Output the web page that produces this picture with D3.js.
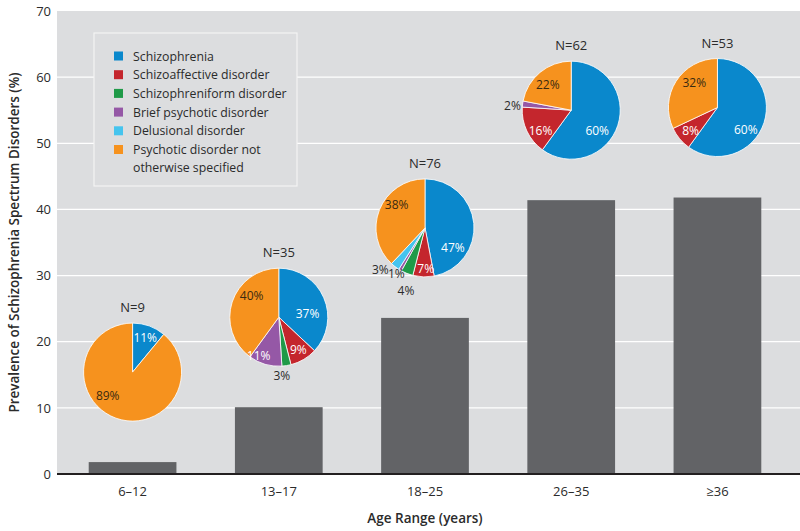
<!DOCTYPE html>
<html><head><meta charset="utf-8">
<script src="https://cdn.jsdelivr.net/npm/d3@7"></script>
<style>body{margin:0;background:#fff;} svg{display:block;font-family:"Open Sans",sans-serif;}</style>
</head><body>
<svg id="chart" width="800" height="531"></svg>
<script>
const ageRanges = ["6–12", "13–17", "18–25", "26–35", "≥36"];
const prevalence = [1.8, 10.1, 23.6, 41.4, 41.8];
const sampleN = [9, 35, 76, 62, 53];
const disorders = ["Schizophrenia", "Schizoaffective disorder", "Schizophreniform disorder", "Brief psychotic disorder", "Delusional disorder", "Psychotic disorder not otherwise specified"];
const legendLines = [["Schizophrenia"], ["Schizoaffective disorder"], ["Schizophreniform disorder"], ["Brief psychotic disorder"], ["Delusional disorder"], ["Psychotic disorder not", "otherwise specified"]];
const schizophrenia   = [11, 37, 47, 60, 60];
const schizoaffective = [0, 9, 7, 16, 8];
const schizophreniform= [0, 3, 4, 0, 0];
const briefPsychotic  = [0, 11, 1, 2, 0];
const delusional      = [0, 0, 3, 0, 0];
const nos             = [89, 40, 38, 22, 32];
const yTicks = [0, 10, 20, 30, 40, 50, 60, 70];

// label placement style (polar: angle in degrees clockwise from 12 o'clock, radius in px), keyed "pie-series"
const labelPlacement = {
  "0-0": [20, 37], "0-5": [227, 34],
  "1-0": [82, 29], "1-1": [149, 38], "1-2": [177, 58], "1-3": [208, 43], "1-5": [309, 35],
  "2-0": [125, 34], "2-1": [179, 41], "2-2": [197, 65], "2-3": [212, 54], "2-4": [227, 61], "2-5": [310, 37],
  "3-0": [128, 33], "3-1": [236, 37], "3-3": [275, 59], "3-5": [318, 35],
  "4-0": [128, 36], "4-1": [230, 35], "4-5": [317, 34]
};

const colors = ["#0a88cc", "#c4262d", "#1f9a48", "#9558a6", "#45c4ee", "#f6921e"];
const series = [schizophrenia, schizoaffective, schizophreniform, briefPsychotic, delusional, nos];

const svg = d3.select("#chart");
const plot = {left: 57, right: 800, top: 11, bottom: 474};
const y = d3.scaleLinear().domain([0, 70]).range([plot.bottom, plot.top]);
const x = d3.scaleBand().domain(ageRanges).range([58, 792]).paddingInner(0.4).paddingOuter(0.21);
const textColor = "#2b2b2b";

svg.append("rect").attr("x", plot.left).attr("y", plot.top).attr("width", plot.right - plot.left).attr("height", plot.bottom - plot.top).attr("fill", "#dcdddf");

// grid
svg.append("g").selectAll("line").data(yTicks.filter(d => d > 0 && d < 70)).join("line")
  .attr("x1", plot.left).attr("x2", plot.right).attr("y1", d => y(d)).attr("y2", d => y(d))
  .attr("stroke", "#ffffff").attr("stroke-width", 1.2);

// y axis labels
const yAxis = d3.axisLeft(y).tickValues(yTicks).tickSize(0).tickPadding(6);
const gy = svg.append("g").attr("transform", `translate(${plot.left},0)`).call(yAxis);
gy.select(".domain").remove();
gy.selectAll("text").attr("fill", textColor).style("font-size", "13px").style("font-family", "Open Sans");

// bars
svg.append("g").selectAll("rect").data(ageRanges).join("rect")
  .attr("x", d => x(d)).attr("width", x.bandwidth())
  .attr("y", (d, i) => y(prevalence[i])).attr("height", (d, i) => y(0) - y(prevalence[i]))
  .attr("fill", "#626366");

// baseline
svg.append("line").attr("x1", plot.left).attr("x2", plot.right).attr("y1", y(0)).attr("y2", y(0)).attr("stroke", "#231f20").attr("stroke-width", 2);

// x axis labels
const xAxis = d3.axisBottom(x).tickSize(0).tickPadding(13);
const gx = svg.append("g").attr("transform", `translate(0,${y(0)})`).call(xAxis);
gx.select(".domain").remove();
gx.selectAll("text").attr("fill", textColor).style("font-size", "13px").style("font-family", "Open Sans");

// axis titles
svg.append("text").attr("x", 425).attr("y", 523).attr("text-anchor", "middle").attr("fill", textColor)
  .style("font-size", "13.5px").style("font-weight", 600).text("Age Range (years)");
svg.append("text").attr("transform", `translate(19,${(plot.top + plot.bottom) / 2}) rotate(-90)`).attr("text-anchor", "middle").attr("fill", textColor)
  .style("font-size", "13.5px").style("font-weight", 600).text("Prevalence of Schizophrenia Spectrum Disorders (%)");

// pies
const R = 49;
const pie = d3.pie().sort(null).value(d => d.v).startAngle(0).endAngle(2 * Math.PI);
const arc = d3.arc().innerRadius(0).outerRadius(R);
ageRanges.forEach((age, i) => {
  const cx = x(age) + x.bandwidth() / 2;
  const cy = y(prevalence[i]) - 41 - R;
  const data = series.map((s, k) => ({v: s[i], k}));
  const arcs = pie(data).filter(a => a.data.v > 0);
  const g = svg.append("g").attr("transform", `translate(${cx},${cy})`);
  g.selectAll("path").data(arcs).join("path").attr("d", arc)
    .attr("fill", a => colors[a.data.k]).attr("stroke", "#ffffff").attr("stroke-width", 0.8);
  g.selectAll("text.lbl").data(arcs).join("text").attr("class", "lbl")
    .each(function(a) {
      const mid = (a.startAngle + a.endAngle) / 2;
      const p = labelPlacement[i + "-" + a.data.k];
      const ang = p ? p[0] * Math.PI / 180 : mid;
      const rr = p ? p[1] : (a.data.v < 5 ? R + 12 : R * 0.68);
      d3.select(this).attr("x", Math.sin(ang) * rr).attr("y", -Math.cos(ang) * rr);
    })
    .attr("text-anchor", "middle").attr("dominant-baseline", "central")
    .attr("fill", a => a.data.v < 5 ? textColor : (a.data.k === 5 ? "#3a2a10" : "#ffffff"))
    .style("font-size", "12px").text(a => a.data.v + "%");
  g.append("text").attr("x", 0).attr("y", -R - 11).attr("text-anchor", "middle").attr("fill", textColor)
    .style("font-size", "13px").text("N=" + sampleN[i]);
});

// legend
const lg = svg.append("g");
lg.append("rect").attr("x", 94).attr("y", 33).attr("width", 203).attr("height", 153)
  .attr("fill", "#dcdddf").attr("stroke", "#f4f4f4").attr("stroke-width", 1.2);
let ly = 56;
disorders.forEach((d, k) => {
  lg.append("rect").attr("x", 114).attr("y", ly - 4.5).attr("width", 9).attr("height", 9).attr("fill", colors[k]);
  legendLines[k].forEach((line, j) => {
    lg.append("text").attr("x", 133).attr("y", ly + j * 17.5).attr("dominant-baseline", "central")
      .attr("fill", textColor).style("font-size", "12.3px").text(line);
  });
  ly += 18.7;
});
</script>
</body></html>
